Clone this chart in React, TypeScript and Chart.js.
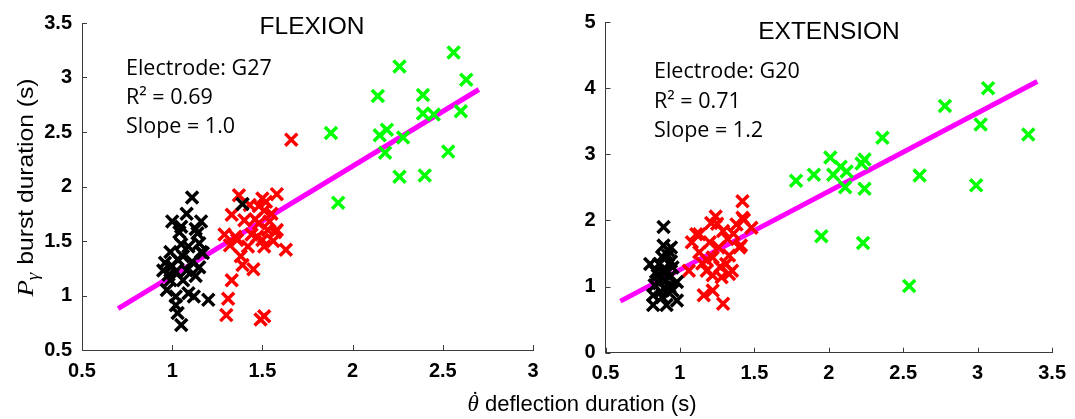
import React, { useEffect, useRef } from 'react';
import { Chart, registerables } from 'chart.js';

Chart.register(...registerables);

// ---------- FLEXION (left panel) ----------
const flexionGreen: number[][] = [
  [2.56, 3.23], [2.26, 3.10], [2.63, 2.98], [2.14, 2.83], [2.39, 2.84], [2.39, 2.67],
  [2.45, 2.66], [2.60, 2.69], [1.88, 2.49], [2.15, 2.47], [2.19, 2.52], [2.28, 2.45],
  [2.18, 2.31], [2.53, 2.32], [2.26, 2.09], [2.40, 2.10], [1.92, 1.85],
];
const flexionRed: number[][] = [
  [1.66, 2.43], [1.37, 1.92], [1.58, 1.93], [1.50, 1.89], [1.33, 1.74], [1.43, 1.83],
  [1.51, 1.78], [1.55, 1.75], [1.40, 1.69], [1.48, 1.66], [1.53, 1.60], [1.58, 1.60],
  [1.29, 1.56], [1.35, 1.54], [1.44, 1.56], [1.50, 1.51], [1.32, 1.46], [1.51, 1.45],
  [1.63, 1.42], [1.38, 1.36], [1.39, 1.28], [1.45, 1.24], [1.33, 1.14], [1.31, 0.97],
  [1.30, 0.82], [1.51, 0.81], [1.49, 0.78], [1.47, 1.54], [1.57, 1.58], [1.46, 1.70],
  [1.36, 1.51], [1.54, 1.68], [1.42, 1.45], [1.56, 1.50], [1.48, 1.82], [1.52, 1.86],
];
const flexionBlack: number[][] = [
  [1.11, 1.90], [1.08, 1.75], [1.00, 1.68], [1.05, 1.63], [1.16, 1.68], [1.04, 1.58],
  [1.14, 1.57], [1.09, 1.45], [1.15, 1.48], [0.99, 1.40], [1.16, 1.40], [0.96, 1.30],
  [1.03, 1.33], [1.11, 1.31], [1.15, 1.26], [0.95, 1.23], [1.02, 1.22], [1.08, 1.23],
  [0.99, 1.14], [1.06, 1.14], [0.97, 1.05], [1.02, 0.99], [1.12, 0.99], [1.20, 0.96],
  [1.02, 0.91], [1.03, 0.84], [1.05, 0.73], [1.39, 1.84], [1.17, 1.39], [1.00, 1.27],
  [1.06, 1.36], [0.98, 1.19], [1.13, 1.18], [1.09, 1.02], [1.05, 1.47], [1.13, 1.61],
];
const flexionFitX = [0.70, 2.70];
const flexionFitY = [0.88, 2.89];
const flexionXTicks = [0.5, 1, 1.5, 2, 2.5, 3];
const flexionYTicks = [0.5, 1, 1.5, 2, 2.5, 3, 3.5];
const flexionNotes = ['Electrode: G27', 'R\u00B2 = 0.69', 'Slope = 1.0'];

// ---------- EXTENSION (right panel) ----------
const extensionGreen: number[][] = [
  [3.07, 4.00], [2.78, 3.73], [3.02, 3.45], [3.34, 3.30], [2.36, 3.25], [2.01, 2.95],
  [2.24, 2.92], [2.22, 2.86], [2.08, 2.81], [2.12, 2.74], [2.03, 2.69], [1.90, 2.69],
  [1.78, 2.60], [2.61, 2.68], [2.11, 2.50], [2.24, 2.48], [2.99, 2.53], [1.95, 1.76],
  [2.23, 1.66], [2.54, 1.01],
];
const extensionRed: number[][] = [
  [1.42, 2.29], [1.24, 2.06], [1.43, 2.01], [1.21, 1.96], [1.38, 1.94], [1.48, 1.89],
  [1.13, 1.79], [1.29, 1.84], [1.32, 1.72], [1.08, 1.67], [1.20, 1.67], [1.40, 1.59],
  [1.26, 1.59], [1.13, 1.52], [1.22, 1.44], [1.33, 1.47], [1.31, 1.34], [1.06, 1.24],
  [1.18, 1.24], [1.35, 1.24], [1.22, 1.17], [1.28, 1.14], [1.16, 0.87], [1.22, 0.94],
  [1.29, 0.74], [1.33, 1.19], [1.11, 1.79], [1.42, 2.04], [1.41, 1.62], [1.25, 1.95],
  [1.18, 1.40], [1.27, 1.30], [1.36, 1.80], [1.15, 1.35],
];
const extensionBlack: number[][] = [
  [0.89, 1.90], [0.89, 1.62], [0.94, 1.59], [0.92, 1.47], [0.80, 1.34], [0.86, 1.34],
  [0.95, 1.29], [0.85, 1.17], [0.93, 1.14], [0.98, 1.07], [0.83, 1.02], [0.90, 0.99],
  [0.95, 0.94], [0.82, 0.87], [0.88, 0.84], [0.98, 0.79], [0.82, 0.72], [0.91, 0.72],
  [0.88, 1.45], [0.91, 1.25], [0.86, 1.05], [0.93, 1.00], [0.89, 1.20], [0.84, 1.22],
  [0.92, 1.55], [0.87, 0.92], [0.94, 1.38], [0.90, 1.10],
];
const extensionFitX = [0.60, 3.40];
const extensionFitY = [0.78, 4.10];
const extensionXTicks = [0.5, 1, 1.5, 2, 2.5, 3, 3.5];
const extensionYTicks = [0, 1, 2, 3, 4, 5];
const extensionNotes = ['Electrode: G20', 'R\u00B2 = 0.71', 'Slope = 1.2'];

const AXIS_COLOR = '#3c3c3c';
const TICK_FONT = { family: '"Liberation Sans", Arial, sans-serif', size: 20, weight: 'bold' as const };

type Panel = {
  green: number[][]; red: number[][]; black: number[][];
  fitX: number[]; fitY: number[];
  xTicks: number[]; yTicks: number[];
  title: string; notes: string[];
  width: number; padRight: number; padTop: number; yAxisW: number; xAxisH: number;
  titleX: number; titleY: number; noteX: number; noteY: number; noteGap: number;
  yLabel: boolean;
};

function toPts(a: number[][]) {
  return a.map(([x, y]) => ({ x, y }));
}

function buildChart(canvas: HTMLCanvasElement, p: Panel) {
  const scatter = (data: number[][], color: string, order: number) => ({
    type: 'scatter' as const,
    data: toPts(data),
    pointStyle: 'crossRot' as const,
    pointRadius: 8.5,
    pointHoverRadius: 8.5,
    pointBorderWidth: 3.5,
    borderColor: color,
    backgroundColor: color,
    showLine: false,
    order,
  });

  const decor = {
    id: 'decor',
    afterDraw(chart: any) {
      const { ctx, chartArea: a, scales } = chart;
      const xs = scales.x, ys = scales.y;
      ctx.save();
      ctx.strokeStyle = AXIS_COLOR;
      ctx.lineWidth = 1;
      p.xTicks.forEach((v) => {
        const px = Math.round(xs.getPixelForValue(v)) + 0.5;
        ctx.beginPath();
        ctx.moveTo(px, a.bottom);
        ctx.lineTo(px, a.bottom - 5);
        ctx.stroke();
      });
      p.yTicks.forEach((v) => {
        const py = Math.round(ys.getPixelForValue(v)) + 0.5;
        ctx.beginPath();
        ctx.moveTo(a.left, py);
        ctx.lineTo(a.left + 5, py);
        ctx.stroke();
      });
      ctx.fillStyle = '#000';
      ctx.font = '24.5px "Liberation Sans", Arial, sans-serif';
      ctx.textAlign = 'center';
      ctx.textBaseline = 'alphabetic';
      ctx.fillText(p.title, p.titleX, p.titleY);
      ctx.font = '21.5px "Open Sans", sans-serif';
      ctx.textAlign = 'left';
      p.notes.forEach((t, i) => ctx.fillText(t, p.noteX, p.noteY + i * p.noteGap));
      if (p.yLabel) {
        ctx.translate(25, (a.top + a.bottom) / 2 + 1);
        ctx.rotate(-Math.PI / 2);
        ctx.scale(1.12, 1);
        const fP = 'italic 24px "Liberation Serif", serif';
        const fG = 'italic 17px "Liberation Serif", serif';
        const fR = '22px "Liberation Sans", Arial, sans-serif';
        const rest = ' burst duration (s)';
        ctx.font = fP; const wP = ctx.measureText('P').width;
        ctx.font = fG; const wG = ctx.measureText('\u03B3').width;
        ctx.font = fR; const wR = ctx.measureText(rest).width;
        let x0 = -(wP + wG + 1 + wR) / 2;
        const base = 8;
        ctx.textAlign = 'left';
        ctx.font = fP; ctx.fillText('P', x0, base); x0 += wP;
        ctx.font = fG; ctx.fillText('\u03B3', x0, base + 5); x0 += wG + 1;
        ctx.font = fR; ctx.fillText(rest, x0, base);
      }
      ctx.restore();
    },
  };

  return new Chart(canvas, {
    type: 'scatter',
    data: {
      datasets: [
        scatter(p.black, '#000000', 0),
        scatter(p.red, '#ff0000', 1),
        scatter(p.green, '#00ff00', 2),
        {
          type: 'line' as const,
          data: p.fitX.map((x, i) => ({ x, y: p.fitY[i] })),
          borderColor: '#ff00ff',
          backgroundColor: '#ff00ff',
          borderWidth: 5,
          pointRadius: 0,
          fill: false,
          order: 10,
        } as any,
      ],
    },
    options: {
      responsive: false,
      animation: false,
      events: [],
      layout: { padding: { left: 0, right: p.padRight, top: p.padTop, bottom: 0 } },
      plugins: { legend: { display: false }, tooltip: { enabled: false }, title: { display: false } },
      scales: {
        x: {
          type: 'linear',
          min: p.xTicks[0],
          max: p.xTicks[p.xTicks.length - 1],
          afterBuildTicks: (s: any) => { s.ticks = p.xTicks.map((v) => ({ value: v })); },
          afterFit: (s: any) => { s.height = p.xAxisH; },
          ticks: {
            font: TICK_FONT, color: '#000', padding: 9, maxRotation: 0, autoSkip: false,
            callback: (v: any) => String(v),
          },
          grid: { display: false, drawTicks: false },
          border: { display: true, color: AXIS_COLOR, width: 1 },
        },
        y: {
          type: 'linear',
          min: p.yTicks[0],
          max: p.yTicks[p.yTicks.length - 1],
          afterBuildTicks: (s: any) => { s.ticks = p.yTicks.map((v) => ({ value: v })); },
          afterFit: (s: any) => { s.width = p.yAxisW; },
          ticks: {
            font: TICK_FONT, color: '#000', padding: 10, autoSkip: false,
            callback: (v: any) => String(v),
          },
          grid: { display: false, drawTicks: false },
          border: { display: true, color: AXIS_COLOR, width: 1 },
        },
      },
    } as any,
    plugins: [decor],
  });
}

const leftPanel: Panel = {
  green: flexionGreen, red: flexionRed, black: flexionBlack,
  fitX: flexionFitX, fitY: flexionFitY,
  xTicks: flexionXTicks, yTicks: flexionYTicks,
  title: 'FLEXION', notes: flexionNotes,
  width: 560, padRight: 27, padTop: 23, yAxisW: 82, xAxisH: 69,
  titleX: 312, titleY: 34, noteX: 126, noteY: 75, noteGap: 29,
  yLabel: true,
};

const rightPanel: Panel = {
  green: extensionGreen, red: extensionRed, black: extensionBlack,
  fitX: extensionFitX, fitY: extensionFitY,
  xTicks: extensionXTicks, yTicks: extensionYTicks,
  title: 'EXTENSION', notes: extensionNotes,
  width: 515, padRight: 16, padTop: 19, yAxisW: 45.5, xAxisH: 66.3,
  titleX: 829 - 560, titleY: 39, noteX: 654 - 560, noteY: 78, noteGap: 29.5,
  yLabel: false,
};

export default function App() {
  const leftRef = useRef<HTMLCanvasElement>(null);
  const rightRef = useRef<HTMLCanvasElement>(null);

  useEffect(() => {
    const c1 = buildChart(leftRef.current!, leftPanel);
    const c2 = buildChart(rightRef.current!, rightPanel);
    return () => { c1.destroy(); c2.destroy(); };
  }, []);

  return (
    <div style={{ position: 'fixed', left: 0, top: 0, width: 1075, height: 419, background: '#fff', overflow: 'hidden' }}>
      <canvas ref={leftRef} width={560} height={419}
        style={{ position: 'absolute', left: 0, top: 0, width: 560, height: 419, display: 'block' }} />
      <canvas ref={rightRef} width={515} height={419}
        style={{ position: 'absolute', left: 560, top: 0, width: 515, height: 419, display: 'block' }} />
      <div style={{
        position: 'absolute', left: 282, top: 393, width: 600, textAlign: 'center',
        fontFamily: '"Liberation Sans", Arial, sans-serif', fontSize: 22, lineHeight: '22px', color: '#000',
        whiteSpace: 'nowrap',
      }}>
        <span style={{ position: 'relative', fontStyle: 'italic', fontFamily: '"Liberation Serif", serif', fontSize: 23 }}>
          {'\u03B8'}
          <span style={{ position: 'absolute', left: 4, top: -3, fontStyle: 'normal', fontSize: 22 }}>{'\u02D9'}</span>
        </span>
        {' deflection duration (s)'}
      </div>
    </div>
  );
}
